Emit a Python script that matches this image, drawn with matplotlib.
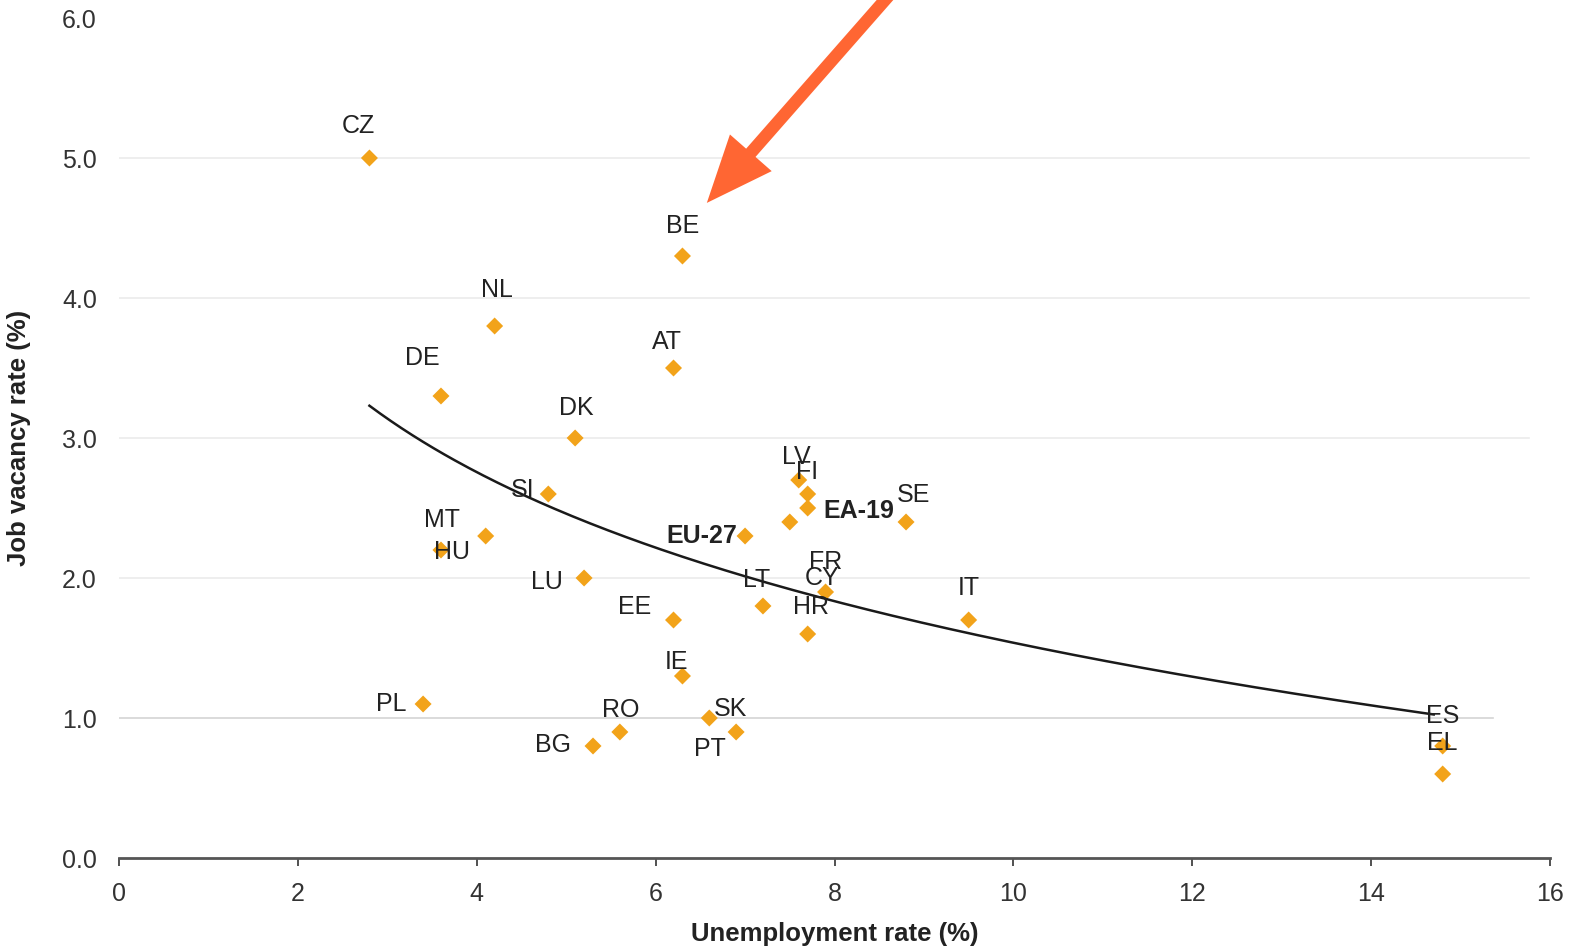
import numpy as np
import matplotlib
matplotlib.use("Agg")
import matplotlib.pyplot as plt

# ---- data ----
countries = ["CZ", "BE", "NL", "AT", "DE", "DK", "SI", "MT", "HU", "LU",
             "EU-27", "LV", "FI", "EA-19", "CY", "SE", "FR", "LT", "HR", "IT",
             "EE", "IE", "PL", "RO", "SK", "PT", "BG", "ES", "EL"]
unemployment = [2.8, 6.3, 4.2, 6.2, 3.6, 5.1, 4.8, 4.1, 3.6, 5.2,
                7.0, 7.6, 7.7, 7.7, 7.5, 8.8, 7.9, 7.2, 7.7, 9.5,
                6.2, 6.3, 3.4, 5.6, 6.6, 6.9, 5.3, 14.8, 14.8]
vacancy = [5.0, 4.3, 3.8, 3.5, 3.3, 3.0, 2.6, 2.3, 2.2, 2.0,
           2.3, 2.7, 2.6, 2.5, 2.4, 2.4, 1.9, 1.8, 1.6, 1.7,
           1.7, 1.3, 1.1, 0.9, 1.0, 0.9, 0.8, 0.8, 0.6]
bold_labels = ["EU-27", "EA-19"]
# logarithmic trend line: y = a + b*ln(x)
trend_a = 4.60
trend_b = -1.33
trend_x_range = [2.8, 14.7]

# label offsets in pixels (dx, dy)
label_offsets = {
    "CZ": (-11, 32), "BE": (0, 30), "NL": (2, 36), "AT": (-7, 26), "DE": (-19, 38),
    "DK": (1, 30), "SI": (-26, 4), "MT": (-44, 16), "HU": (11, -2), "LU": (-37, -4),
    "EU-27": (-43, 0), "LV": (-2, 23), "FI": (-1, 22), "EA-19": (51, -3),
    "CY": (32, -56), "SE": (7, 27), "FR": (0, 30), "LT": (-6, 26), "HR": (3, 27),
    "IT": (0, 32), "EE": (-39, 13), "IE": (-6, 14), "PL": (-32, 0), "RO": (1, 22),
    "SK": (21, 9), "PT": (-26, -17), "BG": (-40, 1), "ES": (0, 30), "EL": (0, 31),
}

plt.rcParams['font.family'] = ['Liberation Sans', 'DejaVu Sans']

fig = plt.figure(figsize=(15.78, 9.49), dpi=100)
ax = fig.add_axes([119/1578, 91/949, (1550-119)/1578, (858-18)/949])

ax.set_xlim(0, 16)
ax.set_ylim(0, 6)

for y in [2, 3, 4, 5]:
    ax.axhline(y, xmin=0, xmax=0.985, color='#ebebeb', lw=1.2, zorder=0)
ax.axhline(1, xmin=0, xmax=0.96, color='#d4d4d4', lw=1.2, zorder=0)

ax.scatter(unemployment, vacancy, marker='D', s=75, color='#F2A31A',
           edgecolors='none', zorder=3)

xt = np.linspace(trend_x_range[0], trend_x_range[1], 300)
ax.plot(xt, trend_a + trend_b * np.log(xt), color='#1a1a1a', lw=1.8, zorder=4)

for c, x, y in zip(countries, unemployment, vacancy):
    dx, dy = label_offsets[c]
    ax.annotate(c, (x, y), xytext=(dx, dy), textcoords='offset pixels',
                ha='center', va='center', fontsize=18,
                fontweight='bold' if c in bold_labels else 'normal',
                color='#222222', zorder=5)

ax.set_xticks(range(0, 17, 2))
ax.set_yticks(np.arange(0, 6.01, 1.0))
ax.set_yticklabels([f"{v:.1f}" for v in np.arange(0, 6.01, 1.0)])
ax.tick_params(axis='x', length=6, width=1.2, colors='#333333', labelsize=18, pad=11)
ax.tick_params(axis='y', length=0, colors='#333333', labelsize=18, pad=16)
for s in ['top', 'right', 'left']:
    ax.spines[s].set_visible(False)
ax.spines['bottom'].set_color('#555555')
ax.spines['bottom'].set_linewidth(2)

ax.set_xlabel("Unemployment rate (%)", fontsize=18.5, fontweight='bold', color='#222222', labelpad=12)
ax.set_ylabel("Job vacancy rate (%)", fontsize=18.5, fontweight='bold', color='#222222', labelpad=22)

# annotation arrow
fig.patches.append(matplotlib.patches.FancyArrowPatch(
    (892/1578, 1 + 8/949), (705/1578, 1 - 205/949), transform=fig.transFigure,
    arrowstyle='simple,head_length=2.4,head_width=2.0,tail_width=0.45',
    mutation_scale=20, color='#FF6633', lw=0, zorder=10))

fig.savefig("out.png", dpi=100, facecolor='white')
